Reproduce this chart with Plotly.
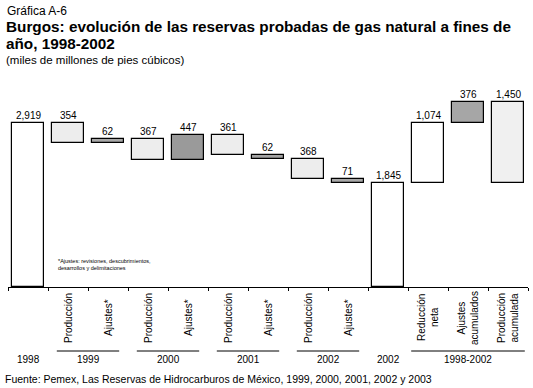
import plotly.graph_objects as go

# ---- data ----
categories = ["1998", "Producción", "Ajustes*", "Producción", "Ajustes*", "Producción",
              "Ajustes*", "Producción", "Ajustes*", "2002", "Reducción<br>neta",
              "Ajustes<br>acumulados", "Producción<br>acumulada"]
changes = [2919, -354, 62, -367, 447, -361, -62, -368, -71, None, 1074, 376, -1450]
group_labels = ["1998", "1999", "2000", "2001", "2002", "2002", "1998-2002"]
group_first = [0, 1, 3, 5, 7, 9, 10]
group_last = [0, 2, 4, 6, 8, 9, 12]
title_line1 = "Burgos: evolución de las reservas probadas de gas natural a fines de"
title_line2 = "año, 1998-2002"
kicker = "Gráfica A-6"
subtitle = "(miles de millones de pies cúbicos)"
note = "*Ajustes: revisiones, descubrimientos,<br>desarrollos y delimitaciones"
source = "Fuente: Pemex, Las Reservas de Hidrocarburos de México, 1999, 2000, 2001, 2002 y 2003"

# ---- styles ----
fills = ["#ffffff", "#ededed", "#a8a8a8", "#ededed", "#9a9a9a", "#ededed", "#a4a4a4",
         "#ededed", "#a8a8a8", "#ffffff", "#ffffff", "#a6a6a6", "#f0f0f0"]
group_line = [False, True, True, True, True, False, True]
group_inset = [0, 0.22, 0.22, 0.22, 0.22, 0, 0.08]
FONT = "Liberation Sans, Arial, sans-serif"

# ---- waterfall geometry from data ----
bases, heights, tops, shown = [], [], [], []
running = 0
for c in changes:
    if c is None:
        start, end = 0, running
    elif not bases:
        start, end = 0, c
        running = c
    else:
        start, end = running, running + c
        running = end
    bases.append(min(start, end))
    heights.append(abs(end - start))
    tops.append(max(start, end))
    shown.append(abs(end - start))

xs = list(range(len(categories)))

W, H = 533, 388
ML, MR, MT, MB = 8, 5, 100, 101
PH = H - MT - MB
PW = W - ML - MR


def py(ypix):
    return (H - MB - ypix) / PH


def px(xpix):
    return (xpix - ML) / PW


fig = go.Figure()
fig.add_trace(go.Bar(
    x=xs, y=heights, base=bases, width=0.79,
    marker=dict(color=fills, line=dict(color="#000000", width=1.2)),
    hoverinfo="skip", showlegend=False,
))

ann = []
for x, t, v in zip(xs, tops, shown):
    ann.append(dict(x=x, y=t, xref="x", yref="y", text=f"{v:,}", showarrow=False,
                    yanchor="bottom", yshift=0, font=dict(size=10, color="#000")))
for i, lab in enumerate(categories):
    if i in (0, 9):
        continue
    ann.append(dict(x=i, y=py(318), xref="x", yref="paper", text=lab, showarrow=False,
                    textangle=-90, xanchor="center", yanchor="middle", align="center",
                    font=dict(size=10, color="#000")))
shapes = []
for lab, a, b, ln, ins in zip(group_labels, group_first, group_last, group_line, group_inset):
    ann.append(dict(x=(a + b) / 2, y=py(359), xref="x", yref="paper", text=lab,
                    showarrow=False, xanchor="center", yanchor="middle",
                    font=dict(size=10, color="#000")))
    if ln:
        shapes.append(dict(type="line", xref="x", yref="paper", x0=a - 0.5 + ins,
                           x1=b + 0.5 - ins, y0=py(351), y1=py(351),
                           line=dict(color="#000", width=1)))

ann.append(dict(x=px(5), y=py(11), xref="paper", yref="paper", text=kicker,
                showarrow=False, xanchor="left", yanchor="middle",
                font=dict(size=12, color="#000")))
ann.append(dict(x=px(4), y=py(26), xref="paper", yref="paper", text=f"<b>{title_line1}</b>",
                showarrow=False, xanchor="left", yanchor="middle",
                font=dict(size=15.3, color="#000")))
ann.append(dict(x=px(4), y=py(44), xref="paper", yref="paper", text=f"<b>{title_line2}</b>",
                showarrow=False, xanchor="left", yanchor="middle",
                font=dict(size=15.3, color="#000")))
ann.append(dict(x=px(4), y=py(60), xref="paper", yref="paper", text=subtitle,
                showarrow=False, xanchor="left", yanchor="middle",
                font=dict(size=11.5, color="#000")))
ann.append(dict(x=px(3), y=py(379), xref="paper", yref="paper", text=source,
                showarrow=False, xanchor="left", yanchor="middle",
                font=dict(size=10.5, color="#000")))
ann.append(dict(x=px(56), y=py(264.5), xref="paper", yref="paper", text=note,
                showarrow=False, xanchor="left", yanchor="middle", align="left",
                font=dict(size=5.5, color="#000")))

fig.update_layout(
    width=W, height=H,
    margin=dict(l=ML, r=MR, t=MT, b=MB, pad=0),
    paper_bgcolor="#ffffff", plot_bgcolor="#ffffff",
    font=dict(family=FONT, color="#000"),
    annotations=ann, shapes=shapes,
    xaxis=dict(range=[-0.5, len(categories) - 0.5], showgrid=False, zeroline=False,
               showline=True, linecolor="#000", linewidth=1,
               tickmode="array", tickvals=[i - 0.5 for i in range(len(categories) + 1)],
               ticktext=[""] * (len(categories) + 1), ticks="outside", ticklen=3,
               tickcolor="#000", tickwidth=1, fixedrange=True),
    yaxis=dict(range=[0, 3330], visible=False, fixedrange=True),
    bargap=0,
)

fig.write_html("out.html", config={"displayModeBar": False},
               post_script="document.body.style.margin='0';document.body.style.overflow='hidden';")
